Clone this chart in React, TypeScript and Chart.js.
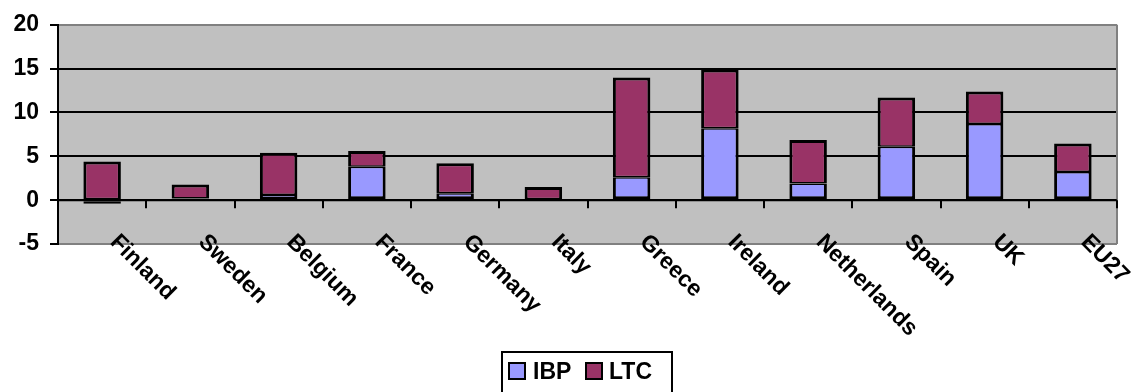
import React, { useEffect, useRef } from "react";
import { Chart, registerables } from "chart.js";

Chart.register(...registerables);

const categories = ["Finland", "Sweden", "Belgium", "France", "Germany", "Italy", "Greece", "Ireland", "Netherlands", "Spain", "UK", "EU27"];
const ibpValues = [-0.4, 0.2, 0.6, 3.8, 0.8, 0.0, 2.6, 8.2, 1.9, 6.1, 8.7, 3.2];
const ltcValues = [4.4, 1.6, 4.8, 1.8, 3.4, 1.5, 11.4, 6.7, 4.95, 5.6, 3.7, 3.25];
const seriesNames = ["IBP", "LTC"];
const seriesColors = ["#9999FF", "#993366"];
const yMin = -5;
const yMax = 20;
const yStep = 5;

const FONT = "'Liberation Sans', Arial, Helvetica, sans-serif";
const FONT_SIZE = 23;

const decorPlugin = {
  id: "decor",
  beforeDraw(chart: any) {
    const { ctx, chartArea } = chart;
    ctx.save();
    ctx.fillStyle = "#C0C0C0";
    ctx.fillRect(chartArea.left, chartArea.top, chartArea.right - chartArea.left, chartArea.bottom - chartArea.top);
    ctx.restore();
  },
  afterDatasetsDraw(chart: any) {
    const { ctx, chartArea } = chart;
    const x = chart.scales.x;
    const y = chart.scales.y;
    const zeroY = y.getPixelForValue(0);
    const catW = (chartArea.right - chartArea.left) / categories.length;
    ctx.save();
    // right border
    ctx.strokeStyle = "#808080";
    ctx.lineWidth = 2;
    ctx.beginPath();
    ctx.moveTo(chartArea.right, chartArea.top);
    ctx.lineTo(chartArea.right, chartArea.bottom);
    ctx.stroke();
    // category axis at zero
    ctx.strokeStyle = "#000";
    ctx.lineWidth = 2;
    ctx.beginPath();
    ctx.moveTo(chartArea.left, zeroY);
    ctx.lineTo(chartArea.right, zeroY);
    ctx.stroke();
    for (let i = 0; i < categories.length; i++) {
      const bx = Math.round(x.getPixelForValue(i) + catW / 2);
      ctx.beginPath();
      ctx.moveTo(bx, zeroY);
      ctx.lineTo(bx, zeroY + 8);
      ctx.stroke();
    }
    // category labels, rotated
    ctx.fillStyle = "#000";
    ctx.font = `bold ${FONT_SIZE}px ${FONT}`;
    ctx.textAlign = "left";
    ctx.textBaseline = "alphabetic";
    for (let i = 0; i < categories.length; i++) {
      const cx = x.getPixelForValue(i);
      ctx.save();
      ctx.translate(cx + 7, chartArea.bottom - 1);
      ctx.rotate(Math.PI / 4);
      ctx.fillText(categories[i], 0, 0);
      ctx.restore();
    }
    // legend
    const lx = 501;
    const ly = 351;
    ctx.lineWidth = 2;
    ctx.strokeStyle = "#000";
    ctx.strokeRect(lx + 1, ly + 1, 170, 60);
    const boxX = [lx + 8, lx + 85];
    const textX = [lx + 32, lx + 108];
    for (let s = 0; s < seriesNames.length; s++) {
      ctx.fillStyle = seriesColors[s];
      ctx.fillRect(boxX[s], ly + 12, 16, 16);
      ctx.strokeRect(boxX[s], ly + 12, 16, 16);
      ctx.fillStyle = "#000";
      ctx.fillText(seriesNames[s], textX[s], ly + 28);
    }
    ctx.restore();
  },
};

export default function App() {
  const canvasRef = useRef<HTMLCanvasElement | null>(null);

  useEffect(() => {
    const canvas = canvasRef.current;
    if (!canvas) return;
    const chart = new Chart(canvas, {
      type: "bar",
      data: {
        labels: categories,
        datasets: [
          {
            label: seriesNames[0],
            data: ibpValues,
            backgroundColor: seriesColors[0],
            borderColor: "#000",
            borderWidth: { top: 1.5, bottom: 3, left: 3, right: 3 },
            borderSkipped: false,
            inflateAmount: 0,
            stack: "s",
          },
          {
            label: seriesNames[1],
            data: ltcValues,
            backgroundColor: seriesColors[1],
            borderColor: "#000",
            borderWidth: { top: 3, bottom: 1.5, left: 3, right: 3 },
            borderSkipped: false,
            inflateAmount: 0,
            stack: "s",
          },
        ],
      },
      options: {
        responsive: false,
        animation: false,
        devicePixelRatio: 1,
        datasets: {
          bar: { barPercentage: 0.425, categoryPercentage: 1 },
        },
        layout: { padding: { left: 0, top: 24, right: 14, bottom: 148 } },
        plugins: {
          legend: { display: false },
          tooltip: { enabled: false },
          title: { display: false },
        },
        scales: {
          x: {
            display: false,
            stacked: true,
          },
          y: {
            stacked: true,
            min: yMin,
            max: yMax,
            ticks: {
              stepSize: yStep,
              color: "#000",
              padding: 11,
              font: { family: FONT, size: FONT_SIZE, weight: "bold" },
            },
            grid: {
              color: (ctx: any) =>
                ctx.tick && (ctx.tick.value === yMax || ctx.tick.value === yMin) ? "#808080" : "#000",
              tickColor: "#000",
              lineWidth: 2,
              tickLength: 8,
              drawTicks: true,
            },
            border: { display: true, color: "#000", width: 2 },
            afterFit: (scale: any) => {
              scale.width = 58;
            },
          },
        },
      },
      plugins: [decorPlugin],
    });
    return () => chart.destroy();
  }, []);

  return (
    <div style={{ position: "fixed", left: 0, top: 0, width: 1131, height: 392, background: "#fff" }}>
      <canvas ref={canvasRef} width={1131} height={392} style={{ display: "block" }} />
    </div>
  );
}
